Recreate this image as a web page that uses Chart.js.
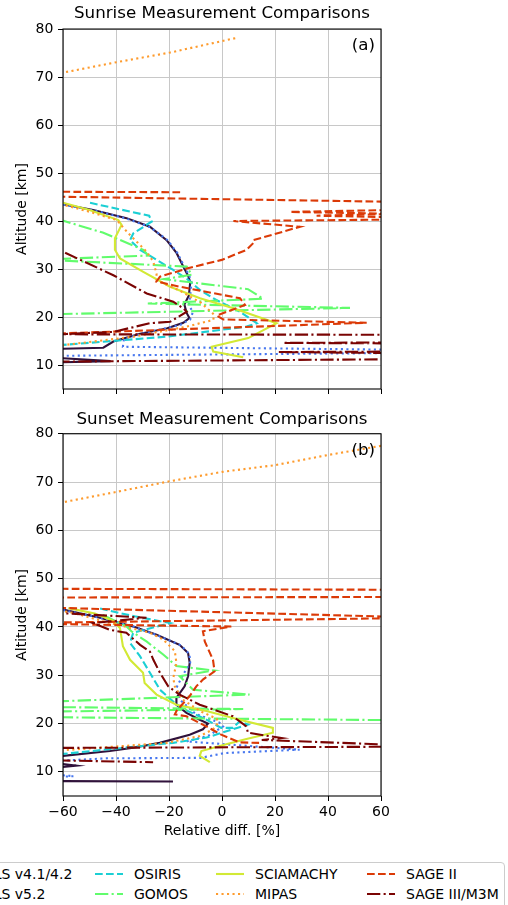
<!DOCTYPE html>
<html>
<head>
<meta charset="utf-8">
<script src="https://cdn.jsdelivr.net/npm/chart.js@4.4.1/dist/chart.umd.min.js"></script>
<style>
  html, body { margin: 0; padding: 0; background: #fff; overflow: hidden; }
  body { width: 508px; height: 905px; position: relative; font-family: 'DejaVu Sans', sans-serif; }
  canvas { position: absolute; left: 0; }
  #c1 { top: 0; }
  #c2 { top: 405px; }
  #legend { position: absolute; left: -230px; top: 862px; width: 733px; height: 70px;
            border: 1px solid #cccccc; border-radius: 4px; background: #fff; }
  .item { position: absolute; height: 16px; font-size: 14px; line-height: 16px; color: #000; white-space: nowrap; }
  .item svg { position: absolute; left: 0; top: 5px; }
  .item span { position: absolute; left: 39px; top: 0; }
</style>
</head>
<body>
<canvas id="c1" width="508" height="405"></canvas>
<canvas id="c2" width="508" height="445"></canvas>
<div id="legend"></div>
<script>
const names = ['MLS v4.1/4.2', 'MLS v5.2', 'OSIRIS', 'GOMOS', 'SCIAMACHY', 'MIPAS', 'SAGE II', 'SAGE III/M3M'];
const colors = ['#30123b', '#4777ef', '#1bcfd4', '#61fc6c', '#d2e935', '#fe9b2d', '#db3a07', '#7a0403'];
const styles = ['solid', 'dotted', 'dashed', 'dashdot', 'solid', 'dotted', 'dashed', 'dashdot'];
const xTicks = [-60, -40, -20, 0, 20, 40, 60];
const xTickLabels = ['\u221260', '\u221240', '\u221220', '0', '20', '40', '60'];
const yTicks = [10, 20, 30, 40, 50, 60, 70, 80];

// [relative diff %, altitude km] — sunrise
const riseMLS4 = [[-60,43.5],[-48.6,42.3],[-36,40.6],[-27.2,38.8],[-20.9,36],[-17.1,33.3],[-14.6,30.5],[-12.7,28.5],[-12,27.2],[-12.5,24.5],[-14.2,22.6],[-13.3,20.8],[-12.3,19.8],[-14.6,18.8],[-20.9,17.6],[-30.9,16.5],[-41,14.9],[-44.8,13.6],[-65,13.3],[-66,11.6],[-42,10.8],[-66,10.5]];
const riseMLS5 = [[-60,43.4],[-48,42.2],[-36,40.5],[-27,38.7],[-20.5,36],[-16.8,33.3],[-14.2,30.5],[-12.3,28.5],[-11.5,27.2],[-12,24.5],[-12.5,22.5],[-11,21],[-12,19.5],[-16,18.3],[-25,17.2],[-37,15.5],[-37.4,13.8],[62,13.2],[65,12.5],[-65,11.9]];
const riseOSIRIS = [[-49.8,43.8],[-40,42.6],[-27.5,41.1],[-26.5,39.9],[-33.5,37.4],[-34.7,36],[-30.9,34],[-24.6,31.9],[-18.4,29.8],[-13.3,28],[-8.3,25.6],[-2,23.5],[6.8,21.1],[13.1,18.7],[9.3,18],[-20.9,15.9],[-62,14.1]];
const riseGOMOS = [[-62,40.4],[-45,37.6],[-29.7,34],[-27.8,32.8],[-62,32.1],[-62,31.8],[-13.3,30.5],[-11.4,28.8],[-22,27.9],[9.8,25.8],[15.5,23.8],[-28,22.8],[48.3,21.9],[-62,20.6]];
const riseSCIA = [[-60,43.8],[-50,42.3],[-39.1,40.2],[-37.9,39.2],[-40.4,36.4],[-40.4,34],[-38.5,32.2],[-29.7,29.4],[-19.6,26.3],[-8.3,23.9],[4.3,21.8],[20.6,18.7],[9.9,15.6],[-3.9,13.8],[-3.3,12.8],[8,11.6]];
const riseMIPAS = [[5,78.1],[-19.6,75.1],[-39.7,73.1],[-62,70.7],[-80,60],[-80,45],[-60,43.4],[-49.8,41.9],[-39.7,40.2],[-35.3,37.4],[-32.2,35.7],[-28.4,33.6],[-25.9,31.5],[-24.7,29],[-24.7,27.7],[-16,25.5],[-8,23],[-3,20.5],[-3.3,19.4],[-13.3,18],[-33.4,15.9],[-62,14]];
const riseSAGE2 = [[-15.8,46],[-65,46.1],[-65,45.1],[65,44],[65,42.3],[25.7,41.9],[65,41.5],[35.7,41.1],[65,40.8],[65,40.3],[4.3,40],[29.4,38.8],[11.8,36],[11.8,35.4],[9.3,34],[-0.1,31.9],[-13.3,30.1],[-23.4,28.4],[-24.7,27.4],[-15.8,26.3],[6.8,23.9],[8.7,22.5],[-2,20.3],[0.5,19.5],[54.6,18.8],[-65,16.5]];
const riseSAGE3 = [[-59.2,33.4],[-41,28.7],[-28.4,24.9],[-18.4,23.2],[-14.6,21.8],[-13.3,21.1],[-19.6,19],[-27.2,18.7],[-41,16.9],[-62,16.4],[65,16.3],[65,14.7],[23,14.6],[65,14.5],[65,12.8],[21,12.7],[65,12.5],[65,11.2],[-65,10.7]];

// sunset
const setMLS4 = [[-60,43.6],[-46.1,41.9],[-33.5,40.1],[-24.7,38.4],[-16,36.3],[-12.8,34.6],[-12.2,32.6],[-12.8,29.8],[-14.1,27.7],[-17.2,25.3],[-17.2,23.9],[-13.4,22.2],[-8.4,20.8],[-5.3,20],[-7.2,18.8],[-12.2,17.7],[-23.5,16],[-33.5,15],[-42.3,14.3],[-62,13.2],[-70,12.3],[-55,11.3],[-70,10.5],[-70,8.1],[-18.5,8]];
const setMLS5 = [[-60,43.5],[-46,41.9],[-33.5,40.1],[-24.5,38.3],[-15.5,36.2],[-12.3,34.4],[-12,32.6],[-15,29.8],[-17.2,27.4],[-16,25],[-10,22],[-1,20.2],[0.4,19.4],[-5,17.5],[-13.4,16.3],[29.3,14.6],[1,13.9],[-8,12.9],[-43.5,12.8],[-65,12.2],[-75,10],[-56,9.1],[-75,8.6]];
const setOSIRIS = [[-46,43.8],[-33,42.2],[-19.6,40.8],[-33.5,38.8],[-34.7,36.7],[-30.9,33.9],[-27.2,30.5],[-23.4,27],[-18.5,24.6],[-15.3,23.2],[-5.9,20.8],[-0.3,19.1],[4.1,19.1],[6.7,20.5],[9.8,19.8],[-5.8,17.1],[-18.5,16],[-62,13.6]];
const setGOMOS = [[-45,42.5],[-36,40.1],[-34.2,39.1],[-28.5,37],[-22.2,34.3],[-17.2,31.9],[-3.3,31],[-16,29.8],[-10.9,27],[10.4,26],[-62,24.6],[-62,23.4],[8,23],[-62,22.5],[-62,21.3],[65,20.7]];
const setSCIA = [[-58,43.9],[-48,42.8],[-41,41.2],[-38.5,39.8],[-37.4,36],[-34.7,33.2],[-29.8,30.5],[-29.2,28.4],[-24.7,26],[-17.2,23.9],[-5.9,22.6],[6.7,20.8],[19.2,19.1],[19.2,18.1],[9.2,16.8],[1.6,15.7],[-7.8,14.3],[-8.4,13.3],[-4.6,12]];
const setMIPAS = [[60,77.5],[40,75.6],[20,73.5],[0,72.1],[-20.3,70.1],[-40.4,67.9],[-62,65.6],[-80,60],[-80,45],[-56,42.9],[-45,41.2],[-27.2,38.8],[-22.2,37.4],[-17.8,35],[-17.2,32.5],[-18.4,29.4],[-17.8,27.7],[-15,25],[-8,22.5],[-2,21],[-1.5,20.1],[-3.4,18.8],[-8.4,17.4],[-21,16],[-46.1,15],[-62,14.4]];
const setSAGE2 = [[-65,47.9],[65,47.7],[65,46.2],[-65,46.1],[-65,44],[65,42.1],[65,41.8],[-65,40.9],[-65,40.6],[3.5,40.1],[-7.2,39.1],[-6.5,37],[-3.4,33.2],[-2.8,30.8],[-7.2,29.1],[-9.7,27.7],[-12.2,25.7],[-17.2,22.6],[-17.8,21.9],[-13.4,21.5],[-5.9,19.4],[-0.3,17.7],[6.7,16.1],[14,16]];
const setSAGE3 = [[-65,43],[-28.5,41.9],[-48.6,40.8],[-42.3,39.4],[-36.1,38.8],[-34.7,38.1],[-30.9,36.3],[-27.2,34.9],[-25.9,33.2],[-23.4,30.5],[-20.3,27.7],[-16,26],[-8.4,23.9],[4.1,21.5],[9.2,19.4],[9.8,18.1],[22.4,17],[15,16.6],[65,15.6],[65,15.2],[-65,14.95],[-65,12.4],[-26,12]];

const dashes = { solid: [], dashed: [7.7, 3.3], dotted: [2.1, 3.4], dashdot: [13.3, 3.3, 2.1, 3.3] };
const family = "'DejaVu Sans', sans-serif";
const tickFont = { family, size: 14 };

const framePlugin = {
  id: 'frame',
  afterDatasetsDraw(chart, args, opts) {
    const { ctx, chartArea: a } = chart;
    ctx.save();
    ctx.strokeStyle = '#000';
    ctx.lineWidth = 1.1;
    ctx.strokeRect(a.left, a.top, a.right - a.left, a.bottom - a.top);
    ctx.fillStyle = '#000';
    ctx.font = '16.7px ' + family;
    ctx.textAlign = 'right';
    ctx.textBaseline = 'middle';
    ctx.fillText(opts.tag, a.right - 6, a.top + 17);
    ctx.restore();
  }
};

function makeChart(id, title, tag, series, titlePad, bottomAxis) {
  const grid = { color: '#c8c8c8', lineWidth: 1, tickLength: 5, tickColor: '#000', tickWidth: 1 };
  return new Chart(document.getElementById(id), {
    type: 'scatter',
    data: {
      datasets: series.map((pts, i) => ({
        label: names[i],
        data: pts.map(([x, y]) => ({ x, y })),
        showLine: true,
        pointRadius: 0,
        borderColor: colors[i],
        borderWidth: 2.1,
        borderDash: dashes[styles[i]],
        order: names.length - i,
        tension: 0
      }))
    },
    options: {
      responsive: false,
      animation: false,
      devicePixelRatio: 1,
      layout: { padding: { left: 0, right: 127, top: 0, bottom: 0 } },
      plugins: {
        legend: { display: false },
        tooltip: { enabled: false },
        title: { display: true, text: title, fullSize: false, color: '#000',
                 font: { family, size: 16.7, weight: 'normal' }, padding: titlePad },
        frame: { tag }
      },
      scales: {
        x: {
          type: 'linear', min: -60, max: 60,
          afterBuildTicks: s => { s.ticks = xTicks.map(v => ({ value: v })); },
          afterFit: s => { s.height = bottomAxis ? 54 : 16; },
          grid, border: { display: false },
          ticks: { padding: 3.3, color: '#000', font: tickFont, maxRotation: 0, autoSkip: false,
                   callback: v => bottomAxis ? xTickLabels[xTicks.indexOf(v)] : '' },
          title: { display: bottomAxis, text: 'Relative diff. [%]', color: '#000', font: tickFont,
                   padding: { top: 0, bottom: 9.9 } }
        },
        y: {
          type: 'linear', min: 5, max: 80,
          afterBuildTicks: s => { s.ticks = yTicks.map(v => ({ value: v })); },
          afterFit: s => { s.width = 63; },
          grid, border: { display: false },
          ticks: { padding: 4.7, color: '#000', font: tickFont, autoSkip: false },
          title: { display: true, text: 'Altitude [km]', color: '#000', font: tickFont,
                   padding: { top: 13.6, bottom: 0 } }
        }
      }
    },
    plugins: [framePlugin]
  });
}

makeChart('c1', 'Sunrise Measurement Comparisons', '(a)',
  [riseMLS4, riseMLS5, riseOSIRIS, riseGOMOS, riseSCIA, riseMIPAS, riseSAGE2, riseSAGE3],
  { top: 4, bottom: 5 }, false);
makeChart('c2', 'Sunset Measurement Comparisons', '(b)',
  [setMLS4, setMLS5, setOSIRIS, setGOMOS, setSCIA, setMIPAS, setSAGE2, setSAGE3],
  { top: 5, bottom: 3.7 }, true);

// legend, filled column by column like matplotlib's ncol=4
const legendX = [-57.4, 95, 216, 367];
const legendY = [874, 894];
names.forEach((n, i) => {
  const item = document.createElement('div');
  item.className = 'item';
  item.style.left = legendX[Math.floor(i / 2)] + 'px';
  item.style.top = (legendY[i % 2] - 8) + 'px';
  const dash = dashes[styles[i]].length ? ` stroke-dasharray="${dashes[styles[i]].join(' ')}"` : '';
  item.innerHTML = `<svg width="28" height="6"><line x1="0" y1="3" x2="28" y2="3" stroke="${colors[i]}" stroke-width="2.1"${dash}/></svg><span>${n}</span>`;
  document.body.appendChild(item);
});
</script>
</body>
</html>
